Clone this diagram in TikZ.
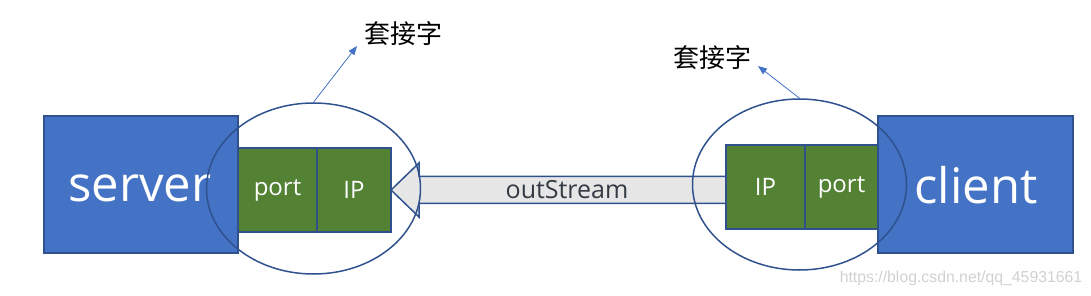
\documentclass[tikz,border=0pt]{standalone}
\usepackage{fontspec}
\setmainfont{Open Sans}
\newfontfamily\cjk{Noto Sans CJK SC}
\newfontfamily\wmfont{Liberation Sans}
\usetikzlibrary{shapes.geometric,arrows.meta,calc}
\definecolor{boxblue}{HTML}{4472C4}
\definecolor{edgeblue}{HTML}{2F528F}
\definecolor{boxgreen}{HTML}{548235}
\definecolor{streamgray}{HTML}{E7E6E6}
\definecolor{streamtext}{HTML}{333A44}
\tikzset{
  hostbox/.style={draw=edgeblue,fill=boxblue,line width=1.6pt,inner sep=0pt},
  hosttext/.style={inner sep=0pt,text=white,font=\fontsize{49}{49}\selectfont},
  fieldbox/.style={draw=edgeblue,fill=boxgreen,line width=1.6pt,inner sep=0pt,text=white,
    minimum height=84pt,font=\fontsize{24}{24}\selectfont},
  socketring/.style={ellipse,draw=edgeblue,line width=1.5pt,inner sep=0pt,
    minimum width=214pt,minimum height=171pt},
  streamshape/.style={draw=edgeblue,fill=streamgray,line width=1.5pt,line join=miter},
  socklabel/.style={inner sep=0pt,font=\cjk\fontsize{26}{26}\selectfont},
  pointer/.style={draw=boxblue,line width=0.8pt,-{Triangle[length=9pt,width=7pt]}}
}
\begin{document}
\begin{tikzpicture}[x=1pt,y=-1pt]
\useasboundingbox (0,0) rectangle (1091,296);
% hosts
\node[hostbox,minimum width=194pt,minimum height=137pt] (server) at (141,184.5) {};
\node[hosttext] (servertext) at (140,188) {server};
\node[hostbox,minimum width=195pt,minimum height=137pt] (client) at (975.5,184.5) {};
\node[hosttext] (clienttext) at (976,185) {client};
% stream arrow
\coordinate (tip) at (391,190);
\path (tip) ++(28,-27) coordinate (h1) ++(0,13.5) coordinate (s1)
      (tip) ++(28,27) coordinate (h2) ++(0,-13.5) coordinate (s2);
\coordinate (ipRw) at (726,187);
\draw[streamshape] (tip) -- (h1) -- (s1) -- (s1 -| ipRw) -- (s2 -| ipRw) -- (s2) -- (h2) -- cycle;
\node[inner sep=0pt,text=streamtext,font=\fontsize{25}{25}\selectfont] (stream) at (567,190) {outStream};
% fields
\node[fieldbox,minimum width=79pt] (portL) at (277.5,190) {port};
\node[fieldbox,minimum width=74pt] (ipL) at (354,190) {IP};
\node[fieldbox,minimum width=79pt] (ipR) at (765.5,187) {IP};
\node[fieldbox,minimum width=73pt] (portR) at (841.5,187) {port};
% sockets
\node[socketring] (sockL) at (313.5,188.5) {};
\node[socketring] (sockR) at (799.5,184.5) {};
% labels
\node[socklabel] (labL) at (403.5,34) {套接字};
\node[socklabel] (labR) at (712.5,58) {套接字};
\coordinate (endL) at (357,46);
\coordinate (endR) at (758,66);
\draw[pointer] (sockL.north) -- (endL);
\draw[pointer] (sockR.north) -- (endR);
% watermark
\node[inner sep=0pt,text=black!18,font=\wmfont\fontsize{15.8}{16}\selectfont] (wm) at (961,278) {https://blog.csdn.net/qq\_45931661};
\end{tikzpicture}
\end{document}
